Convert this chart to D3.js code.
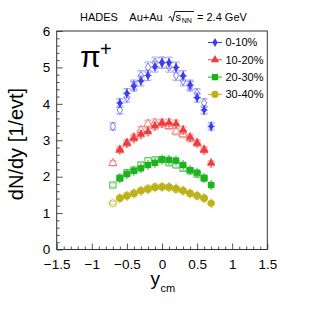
<!DOCTYPE html>
<html>
<head>
<meta charset="utf-8">
<script src="https://cdn.jsdelivr.net/npm/d3@7"></script>
<style>
	body{margin:0;background:#fff}
	svg{display:block}
	text{font-family:"Liberation Sans", Arial, sans-serif}
</style>
</head>
<body>
<svg></svg>
<script>
// rapidity bins (filled points), open points are the same data reflected at y_cm = 0
const rapidity = [-0.6, -0.5, -0.4, -0.3, -0.2, -0.1, 0.0, 0.1, 0.2, 0.3, 0.4, 0.5, 0.6, 0.7]
const cent0_10 = [4.02, 4.29, 4.48, 4.63, 4.78, 5.02, 5.13, 5.13, 5.00, 4.77, 4.52, 4.17, 3.83, 3.38]
const cent10_20 = [2.74, 2.92, 3.05, 3.16, 3.24, 3.39, 3.47, 3.48, 3.45, 3.28, 3.08, 2.92, 2.73, 2.37]
const cent20_30 = [1.96, 2.07, 2.16, 2.23, 2.32, 2.38, 2.47, 2.46, 2.44, 2.32, 2.18, 2.11, 1.96, 1.77]
const cent30_40 = [1.41, 1.47, 1.54, 1.61, 1.65, 1.70, 1.72, 1.72, 1.68, 1.62, 1.54, 1.48, 1.41, 1.27]
const centLabels = ['0-10%', '10-20%', '20-30%', '30-40%']
const xTicks = [-1.5, -1, -0.5, 0, 0.5, 1, 1.5]
const yTicks = [0, 1, 2, 3, 4, 5, 6]
const sysFraction = 0.03

const width = 315
const height = 312
const margin = {left: 56.7, right: 47.7, top: 31, bottom: 62.5}

const series = [
	{label: centLabels[0], values: cent0_10, symbol: d3.symbolDiamond, size: 24, fill: '#3c3cf0', open: '#7a7af2', sys: '#a8a8f6'},
	{label: centLabels[1], values: cent10_20, symbol: d3.symbolTriangle, size: 30, fill: '#ee3b3b', open: '#f07878', sys: '#f5a8a8'},
	{label: centLabels[2], values: cent20_30, symbol: d3.symbolSquare, size: 40, fill: '#1db31d', open: '#5cc85c', sys: '#9ee09e'},
	{label: centLabels[3], values: cent30_40, symbol: d3.symbolCircle, size: 40, fill: '#bdb21c', open: '#c8bf3c', sys: '#e0d98c'}
]

const svg = d3.select('svg')
	.attr('width', width)
	.attr('height', height)

const x = d3.scaleLinear().domain([-1.5, 1.5]).range([margin.left, width - margin.right])
const y = d3.scaleLinear().domain([0, 6]).range([height - margin.bottom, margin.top])

drawAxes()
drawSeries()
drawLegend()
drawTexts()

function drawAxes() {
	const fmt = d3.format('~g')
	const xMinor = d3.range(-1.5, 1.5001, 0.1).filter(v => Math.abs(Math.round(v * 2) - v * 2) > 1e-6)
	const yMinor = d3.range(0, 6.001, 0.2).filter(v => Math.abs(Math.round(v) - v) > 1e-6)

	// minor ticks
	svg.append('g')
		.attr('transform', `translate(0,${y(0)})`)
		.call(d3.axisBottom(x).tickValues(xMinor).tickSize(-3).tickFormat(''))
		.call(g => g.select('.domain').remove())
	svg.append('g')
		.attr('transform', `translate(${x(-1.5)},0)`)
		.call(d3.axisLeft(y).tickValues(yMinor).tickSize(-3).tickFormat(''))
		.call(g => g.select('.domain').remove())

	// major ticks
	svg.append('g')
		.attr('transform', `translate(0,${y(0)})`)
		.call(d3.axisBottom(x).tickValues(xTicks).tickSizeInner(-6).tickSizeOuter(0).tickPadding(9.5).tickFormat(fmt))
		.call(g => g.select('.domain').remove())
		.call(g => g.selectAll('text').attr('font-size', 13.5).attr('fill', '#000'))
	svg.append('g')
		.attr('transform', `translate(${x(-1.5)},0)`)
		.call(d3.axisLeft(y).tickValues(yTicks).tickSizeInner(-6).tickSizeOuter(0).tickPadding(6.5).tickFormat(fmt))
		.call(g => g.select('.domain').remove())
		.call(g => g.selectAll('text').attr('font-size', 13.5).attr('fill', '#000'))

	svg.selectAll('.tick line').attr('stroke', '#555')

	// frame
	svg.append('rect')
		.attr('x', x(-1.5))
		.attr('y', y(6))
		.attr('width', x(1.5) - x(-1.5))
		.attr('height', y(0) - y(6))
		.attr('fill', 'none')
		.attr('stroke', '#333')
		.attr('stroke-width', 1)
}

function drawSeries() {
	series.forEach(s => {
		const filled = rapidity.map((r, i) => ({r: r, v: s.values[i]}))
		const reflected = rapidity.map((r, i) => ({r: -r, v: s.values[i]}))
		const g = svg.append('g')

		// systematic brackets
		const bracket = d => {
			const cx = x(d.r)
			const yt = y(d.v * (1 + sysFraction))
			const yb = y(d.v * (1 - sysFraction))
			const w = 3
			return `M${cx - w},${yt + 1.5}V${yt}H${cx + w}V${yt + 1.5}` +
				`M${cx - w},${yb - 1.5}V${yb}H${cx + w}V${yb - 1.5}`
		}
		g.selectAll('path.sys')
			.data(reflected.concat(filled))
			.enter()
				.append('path')
				.attr('class', 'sys')
				.attr('d', bracket)
				.attr('fill', 'none')
				.attr('stroke', s.sys)
				.attr('stroke-width', 1)

		// open (reflected) points
		g.selectAll('path.open')
			.data(reflected)
			.enter()
				.append('path')
				.attr('class', 'open')
				.attr('transform', d => `translate(${x(d.r)},${y(d.v)})`)
				.attr('d', d3.symbol().type(s.symbol).size(s.size))
				.attr('fill', 'none')
				.attr('stroke', s.open)
				.attr('stroke-width', 1)

		// stat error bars
		g.selectAll('path.stat')
			.data(filled)
			.enter()
				.append('path')
				.attr('class', 'stat')
				.attr('d', d => `M${x(d.r)},${y(d.v) - 5}V${y(d.v) + 5}M${x(d.r) - 3.5},${y(d.v)}H${x(d.r) + 3.5}`)
				.attr('stroke', s.fill)
				.attr('stroke-width', 1)

		// filled points
		g.selectAll('path.filled')
			.data(filled)
			.enter()
				.append('path')
				.attr('class', 'filled')
				.attr('transform', d => `translate(${x(d.r)},${y(d.v)})`)
				.attr('d', d3.symbol().type(s.symbol).size(s.size))
				.attr('fill', s.fill)
	})
}

function drawLegend() {
	const lx = 215
	const ly = 42.5
	const step = 17.3
	const g = svg.append('g')
	series.forEach((s, i) => {
		const yy = ly + i * step
		g.append('line')
			.attr('x1', lx - 7).attr('x2', lx + 7)
			.attr('y1', yy).attr('y2', yy)
			.attr('stroke', s.fill)
		g.append('path')
			.attr('transform', `translate(${lx},${yy})`)
			.attr('d', d3.symbol().type(s.symbol).size(s.size))
			.attr('fill', s.fill)
		g.append('text')
			.attr('x', lx + 10.5)
			.attr('y', yy)
			.attr('dy', '0.36em')
			.attr('font-size', 11)
			.text(s.label)
	})
}

function drawTexts() {
	// header
	const t = svg.append('g').attr('font-size', 11)
	t.append('text').attr('x', 80).attr('y', 20.5).text('HADES')
	t.append('text').attr('x', 129.3).attr('y', 20.5).text('Au+Au')
	t.append('path')
		.attr('d', 'M168.5,17.5L170.5,16.5L172.5,21.5L175,11.5H194')
		.attr('fill', 'none')
		.attr('stroke', '#000')
		.attr('stroke-width', 0.9)
	t.append('text').attr('x', 175.5).attr('y', 20.5).text('s')
	t.append('text').attr('x', 181.8).attr('y', 23).attr('font-size', 7).text('NN')
	t.append('text').attr('x', 197).attr('y', 20.5).text('= 2.4 GeV')

	// particle
	const p = svg.append('g')
	p.append('text').attr('x', 80).attr('y', 67).attr('font-size', 30).text('π')
	p.append('text').attr('x', 100).attr('y', 55.5).attr('font-size', 20).text('+')

	// axis titles
	const xt = svg.append('g')
	xt.append('text').attr('x', 150.5).attr('y', 285).attr('font-size', 19).text('y')
	xt.append('text').attr('x', 160.5).attr('y', 292).attr('font-size', 11).text('cm')

	svg.append('text')
		.attr('transform', 'translate(23,144) rotate(-90)')
		.attr('text-anchor', 'middle')
		.attr('font-size', 20)
		.text('dN/dy [1/evt]')
}
</script>
</body>
</html>
